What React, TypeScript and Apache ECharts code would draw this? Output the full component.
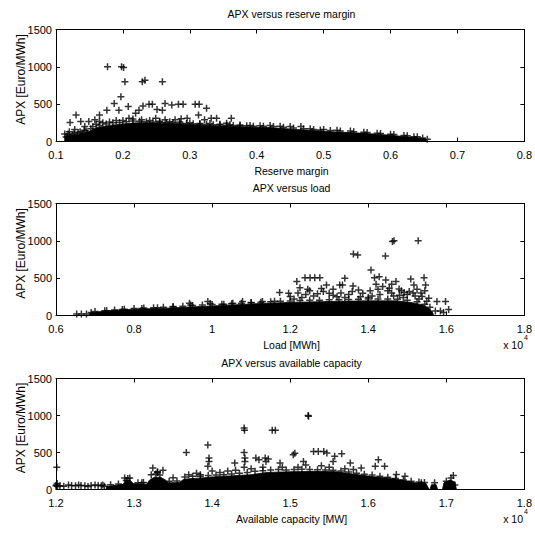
import React, { useEffect, useRef } from "react";
import * as echarts from "echarts";

const FONT = "'Liberation Sans', Arial, Helvetica, sans-serif";
const PLUS = "path://M0,2.75H7V4.25H0Z M2.75,0H4.25V7H2.75Z";

const titles = ["APX versus reserve margin", "APX versus load", "APX versus available capacity"];
const xLabels = ["Reserve margin", "Load [MWh]", "Available capacity [MW]"];
const yLabel = "APX [Euro/MWh]";

// dense mass of points (upper outline), per subplot
const reserveBand: number[][] = [
  [0.113, 0], [0.113, 70], [0.13, 90], [0.15, 130], [0.16, 185], [0.18, 215], [0.2, 235], [0.22, 250],
  [0.24, 250], [0.26, 245], [0.28, 238], [0.3, 228], [0.32, 218], [0.34, 210], [0.36, 203], [0.38, 197],
  [0.4, 190], [0.42, 186], [0.44, 174], [0.46, 160], [0.48, 150], [0.5, 137], [0.52, 127], [0.54, 119],
  [0.56, 109], [0.58, 97], [0.6, 83], [0.62, 67], [0.64, 51], [0.652, 35], [0.655, 0],
];
const reservePoints: number[][] = [
  [0.177, 1000], [0.198, 1000], [0.201, 990], [0.203, 800], [0.229, 800], [0.233, 820], [0.259, 800],
  [0.197, 600], [0.187, 510], [0.208, 470], [0.194, 420], [0.176, 420], [0.165, 356], [0.13, 356],
  [0.121, 254], [0.137, 267], [0.113, 100], [0.118, 100], [0.149, 267], [0.219, 378], [0.224, 420],
  [0.23, 476], [0.239, 500], [0.244, 500], [0.251, 430], [0.259, 420], [0.263, 510], [0.273, 490],
  [0.283, 500], [0.29, 500], [0.308, 500], [0.314, 500], [0.325, 445], [0.313, 356], [0.332, 310],
  [0.34, 310], [0.362, 310], [0.322, 290], [0.355, 245], [0.296, 310], [0.278, 290], [0.287, 305],
  [0.263, 290], [0.249, 310], [0.209, 310], [0.185, 180], [0.158, 290], [0.165, 267], [0.143, 200],
  [0.12, 130], [0.125, 90], [0.128, 160], [0.133, 120], [0.138, 80], [0.142, 150], [0.147, 110],
  [0.152, 170], [0.16, 230], [0.17, 250], [0.18, 260], [0.19, 280], [0.2, 280], [0.215, 300],
  [0.228, 290], [0.24, 280], [0.255, 270], [0.27, 265], [0.285, 260], [0.3, 250], [0.315, 240],
  [0.33, 240], [0.345, 230], [0.36, 225], [0.375, 220], [0.39, 215], [0.405, 210], [0.42, 215],
  [0.435, 205], [0.45, 200], [0.466, 200], [0.48, 170], [0.5, 160], [0.52, 150], [0.54, 140],
  [0.56, 125], [0.58, 112], [0.6, 98], [0.62, 82], [0.635, 65], [0.648, 48], [0.655, 30],
  [0.155, 200], [0.165, 215], [0.175, 235], [0.185, 250], [0.195, 255], [0.205, 265], [0.215, 275],
  [0.225, 270], [0.235, 265], [0.245, 262], [0.255, 258], [0.265, 250], [0.275, 255], [0.285, 245],
  [0.295, 240], [0.305, 238], [0.315, 232], [0.325, 228], [0.335, 225], [0.345, 220], [0.355, 218],
  [0.365, 215], [0.375, 212], [0.385, 210], [0.395, 205], [0.41, 203], [0.425, 200], [0.44, 190],
  [0.455, 180], [0.47, 170], [0.485, 162], [0.495, 155], [0.51, 148], [0.525, 140], [0.545, 130],
  [0.565, 120], [0.585, 108], [0.605, 95], [0.625, 78], [0.64, 62],
  [0.115, 60], [0.12, 80], [0.123, 50], [0.127, 110], [0.132, 70], [0.136, 130], [0.14, 100],
  [0.145, 140], [0.15, 90],
];

const loadBand: number[][] = [
  [6850, 0], [6870, 35], [7100, 50], [7500, 70], [8000, 85], [8800, 98], [9700, 120], [10500, 140],
  [11400, 165], [12200, 178], [13000, 187], [13900, 196], [14700, 196], [15100, 175], [15400, 142],
  [15550, 98], [15640, 50], [15680, 0],
];
const loadPoints: number[][] = [
  [14620, 990], [14660, 1000], [15280, 1000], [13620, 823], [13730, 810], [14440, 797], [14070, 610],
  [12170, 454], [12380, 507], [12510, 507], [12630, 507], [12760, 507], [13400, 498], [12930, 410],
  [13270, 410], [13340, 410], [13610, 396], [14160, 507], [14280, 520], [14450, 476], [14710, 454],
  [15090, 490], [15430, 507], [15470, 410], [15170, 410], [14540, 365], [14370, 387], [14790, 356],
  [14920, 307], [11730, 307], [11960, 298], [12000, 254], [12850, 320], [13000, 298], [13590, 320],
  [13860, 298], [15050, 320], [15380, 254], [15550, 231],
  [6530, 20], [6650, 20], [6780, 20], [6900, 40], [7300, 65], [7700, 80], [8200, 95], [8600, 105],
  [9000, 115], [9420, 165], [9450, 140], [9890, 187], [9950, 160], [10300, 150], [10530, 165],
  [10780, 187], [11000, 175], [11290, 187], [11600, 190], [12100, 220], [12300, 240], [12400, 280],
  [12600, 260], [13200, 250], [14100, 260], [14300, 280], [14600, 300], [14800, 270], [15720, 60],
  [15850, 60], [15930, 40], [16060, 80], [15760, 187], [15980, 187], [15500, 190], [15300, 220],
  [12200, 300], [12500, 330], [12700, 290], [13100, 270], [13400, 240], [13800, 250], [14000, 240],
  [14900, 240], [15200, 260],
  [7000, 55], [7250, 62], [7500, 75], [7750, 85], [8000, 95], [8250, 100], [8500, 105], [8750, 110],
  [9000, 120], [9250, 125], [9500, 135], [9750, 140], [10000, 148], [10250, 152], [10500, 158],
  [10750, 165], [11000, 172], [11250, 178], [11500, 185], [11750, 190], [12000, 195], [12250, 200],
  [12500, 205], [12750, 205], [13000, 210], [13250, 212], [13500, 215], [13750, 218], [14000, 220],
  [14250, 222], [14500, 220], [14750, 218], [15000, 205], [15250, 185], [15450, 150], [15580, 110],
  [13100, 350], [13500, 280], [13750, 340], [14050, 330], [14250, 350], [14500, 330], [14650, 260],
  [14850, 330], [15000, 280], [15150, 300], [15350, 300], [15450, 330], [12450, 350], [12250, 370],
  [12800, 360], [13300, 300], [14200, 420], [14600, 420], [15250, 350],
];

const capBand: number[][] = [
  [12640, 0], [12650, 40], [12860, 70], [12890, 120], [12950, 125], [12990, 80], [13160, 70],
  [13200, 130], [13260, 165], [13340, 165], [13400, 130], [13440, 90], [13580, 95], [13640, 140],
  [13900, 160], [14000, 170], [14260, 185], [14500, 200], [14700, 230], [15000, 240], [15300, 245],
  [15600, 240], [15800, 210], [16050, 175], [16300, 150], [16500, 115], [16600, 90], [16740, 80],
  [16780, 0], [16790, 0], [16810, 65], [16870, 65], [16890, 0], [16950, 0], [16970, 90],
  [17050, 130], [17110, 100], [17130, 0],
];
const capPoints: number[][] = [
  [12010, 300], [12005, 60], [12015, 80], [12020, 40], [12000, 50], [12160, 60], [12290, 60],
  [12320, 55], [12370, 50], [12410, 40], [12500, 60], [12540, 55], [12580, 50], [12620, 45],
  [12050, 50], [12100, 45], [12200, 55], [12250, 50], [12450, 55], [12600, 60],
  [12880, 157], [12945, 157], [12900, 120], [13240, 290], [13370, 260], [13300, 230], [13100, 90],
  [13220, 200], [13280, 210], [13330, 195], [12920, 150],
  [13670, 500], [13945, 600], [13960, 425], [13960, 380], [13945, 314], [13850, 200], [13700, 200],
  [14100, 230], [14200, 250], [14290, 358], [14410, 830], [14415, 800], [14410, 500], [14420, 425],
  [14420, 380], [14410, 300], [14560, 425], [14600, 403], [14690, 380], [14680, 425], [14720, 412],
  [14770, 800], [14810, 800], [14870, 358], [15040, 470], [15060, 490], [15170, 380], [15230, 1000],
  [15235, 990], [15300, 515], [15360, 515], [15430, 515], [15470, 493], [15570, 448], [15660, 484],
  [15550, 380], [15770, 358], [15810, 269], [15910, 290], [16090, 314], [16130, 403], [16210, 314],
  [16360, 202], [16470, 180], [16680, 90], [16850, 90], [17000, 112], [17060, 157], [17090, 188],
  [17110, 60], [14500, 280], [14650, 300], [14900, 300], [15100, 300], [15200, 330], [15400, 320],
  [15500, 300], [15700, 280], [14300, 260], [14000, 250], [13800, 220], [13500, 160], [13300, 240],
  [12700, 65], [12800, 75], [13050, 90], [13120, 95], [13450, 110], [13550, 115], [13650, 170],
  [13750, 180], [13850, 180], [13950, 190], [14050, 195], [14150, 200], [14250, 210], [14350, 220],
  [14450, 230], [14550, 245], [14650, 255], [14750, 265], [14850, 270], [14950, 265], [15050, 270],
  [15150, 275], [15250, 270], [15350, 268], [15450, 265], [15550, 260], [15650, 250], [15750, 235],
  [15850, 220], [15950, 205], [16050, 195], [16150, 180], [16250, 165], [16350, 150], [16450, 130],
  [16550, 110], [16650, 100], [16720, 95],
];

const xAxesDef = [
  { min: 0.1, max: 0.8, interval: 0.1, fmt: (v: number) => String(+v.toFixed(1)) },
  { min: 6000, max: 18000, interval: 2000, fmt: (v: number) => String(+(v / 10000).toFixed(2)) },
  { min: 12000, max: 18000, interval: 1000, fmt: (v: number) => String(+(v / 10000).toFixed(2)) },
];
const bands = [reserveBand, loadBand, capBand];
const points = [reservePoints, loadPoints, capPoints];

const LEFT = 56;
const WIDTH = 471;
const grids = [
  { top: 29.5, height: 112 },
  { top: 203.5, height: 112 },
  { top: 378.5, height: 111 },
];

export default function App() {
  const ref = useRef<HTMLDivElement>(null);
  useEffect(() => {
    if (!ref.current) return;
    const chart = echarts.init(ref.current, undefined, { renderer: "svg" });
    const axisLine = { show: true, onZero: false, lineStyle: { color: "#000", width: 1 } };
    const axisTick = { show: true, inside: true, length: 4, lineStyle: { color: "#000", width: 1 } };
    const xAxis: any[] = [];
    const yAxis: any[] = [];
    const series: any[] = [];
    const graphic: any[] = [];
    grids.forEach((g, i) => {
      const d = xAxesDef[i];
      xAxis.push({
        gridIndex: i, type: "value", min: d.min, max: d.max, interval: d.interval, position: "bottom",
        axisLine, axisTick, splitLine: { show: false },
        axisLabel: { color: "#000", fontSize: 11, fontFamily: FONT, margin: 8, formatter: d.fmt },
      });
      xAxis.push({
        gridIndex: i, type: "value", min: d.min, max: d.max, interval: d.interval, position: "top",
        axisLine, axisTick, splitLine: { show: false }, axisLabel: { show: false },
      });
      yAxis.push({
        gridIndex: i, type: "value", min: 0, max: 1500, interval: 500, position: "left",
        axisLine, axisTick, splitLine: { show: false },
        axisLabel: { color: "#000", fontSize: 11, fontFamily: FONT, margin: 4, formatter: (v: number) => String(v) },
      });
      yAxis.push({
        gridIndex: i, type: "value", min: 0, max: 1500, interval: 500, position: "right",
        axisLine, axisTick, splitLine: { show: false }, axisLabel: { show: false },
      });
      series.push({
        type: "line", xAxisIndex: 2 * i, yAxisIndex: 2 * i, data: bands[i], symbol: "none",
        lineStyle: { width: 0.8, color: "#000" }, areaStyle: { color: "#000", opacity: 1 }, silent: true,
      });
      series.push({
        type: "scatter", xAxisIndex: 2 * i, yAxisIndex: 2 * i, data: points[i], symbol: PLUS,
        symbolSize: 7, itemStyle: { color: "#000" }, silent: true,
      });
      const cx = LEFT + WIDTH / 2;
      const bottom = g.top + g.height;
      const txt = (text: string, x: number, y: number, size: number, align = "center", rot = 0) => ({
        type: "text", x, y, rotation: rot, silent: true,
        style: {
          text, fill: "#000", fontSize: size, fontFamily: FONT,
          align, verticalAlign: "middle", textAlign: align, textVerticalAlign: "middle",
        },
      });
      graphic.push(txt(titles[i], cx, g.top - 15.5, 10.5));
      graphic.push(txt(xLabels[i], cx, bottom + 29, 10.5));
      graphic.push(txt(yLabel, 21, g.top + g.height / 2 - 6, 12, "center", Math.PI / 2));
      if (i > 0) {
        graphic.push(txt("x 10", 523, bottom + 29, 10.5, "right"));
        graphic.push(txt("4", 524, bottom + 22, 7, "left"));
      }
    });
    chart.setOption({
      animation: false,
      backgroundColor: "#fff",
      grid: grids.map((g) => ({ left: LEFT, width: WIDTH, top: g.top, height: g.height, containLabel: false })),
      xAxis,
      yAxis,
      series,
      graphic,
    });
    return () => chart.dispose();
  }, []);
  return (
    <div
      ref={ref}
      style={{ position: "fixed", left: 0, top: 0, width: 535, height: 534, background: "#fff" }}
    />
  );
}
